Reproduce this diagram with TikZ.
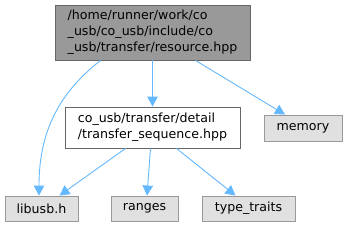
\documentclass[tikz,border=0pt]{standalone}
\usepackage{fontspec}
\setmainfont{DejaVu Sans}
\usepackage{tikz}
\usetikzlibrary{arrows.meta}

\definecolor{edgeblue}{HTML}{63B8FF}
\definecolor{hdrgray}{HTML}{999999}
\definecolor{sysgray}{HTML}{E0E0E0}

\begin{document}
\begin{tikzpicture}[x=1pt, y=-1pt,
	every node/.style={font=\fontsize{12.6}{16}\selectfont, inner sep=0pt, align=left},
	file/.style={draw=black!60, fill=white, line width=0.9pt},
	sys/.style={draw=hdrgray, fill=sysgray, line width=0.9pt, minimum height=25pt},
	dep/.style={draw=edgeblue, line width=0.9pt, -{Triangle[length=10pt, width=10.5pt]}}]
	\useasboundingbox (0,0) rectangle (347,227);
	% file nodes
	\node[file, fill=hdrgray, minimum width=195pt, minimum height=55pt] (resource) at (152.5,32.5) {/home/runner/work/co\\\_usb/co\_usb/include/co\\\_usb/transfer/resource.hpp};
	\node[file, minimum width=175pt, minimum height=41pt] (sequence) at (152.5,127.5) {co\_usb/transfer/detail\\/transfer\_sequence.hpp};
	% system headers
	\node[sys, minimum width=78pt, minimum height=26pt] (memory) at (303,128) {memory};
	\node[sys, minimum width=73pt] (libusb) at (41.5,208.5) {libusb.h};
	\node[sys, minimum width=67pt] (ranges) at (144.5,208.5) {ranges};
	\node[sys, minimum width=93pt] (typetraits) at (248.5,208.5) {type\_traits};
	% includes
	\draw[dep] ([xshift=-52pt]resource.south) to[out=218, in=90] ([xshift=-2.5pt]libusb.north);
	\draw[dep] (resource.south) -- (sequence.north);
	\draw[dep] ([xshift=43pt]resource.south) -- ([xshift=-18pt]memory.north);
	\draw[dep] ([xshift=-27pt]sequence.south) -- ([xshift=18pt]libusb.north);
	\draw[dep] ([xshift=-2pt]sequence.south) -- ([xshift=2.5pt]ranges.north);
	\draw[dep] ([xshift=24pt]sequence.south) -- ([xshift=-13pt]typetraits.north);
\end{tikzpicture}
\end{document}
